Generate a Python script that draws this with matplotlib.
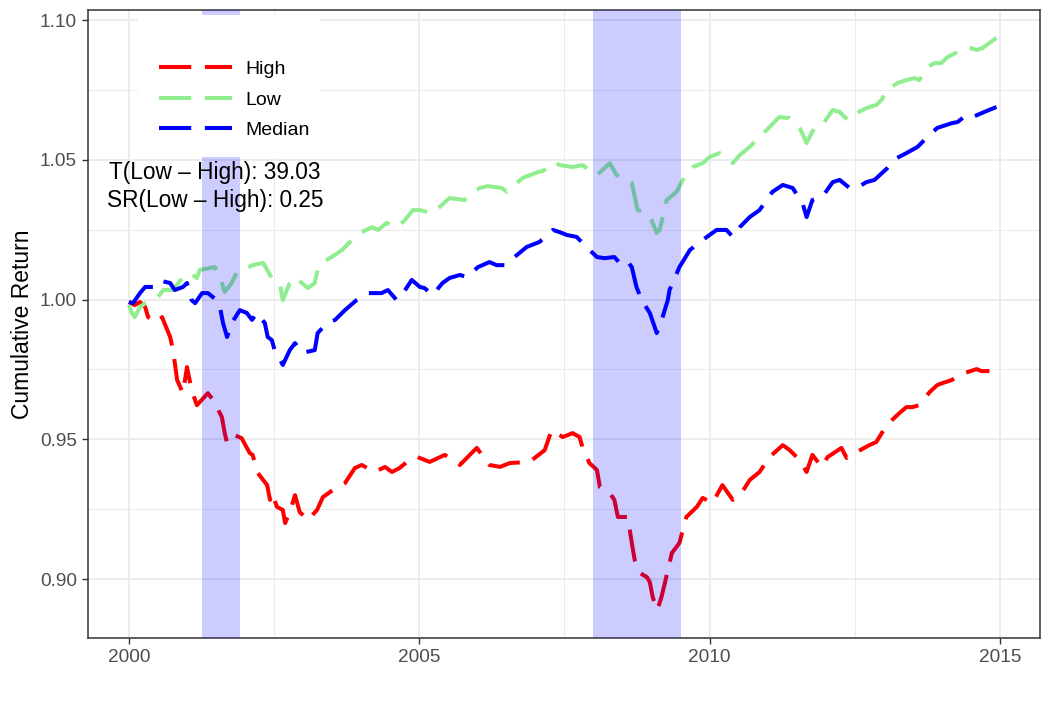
import matplotlib
matplotlib.use("Agg")
import matplotlib.pyplot as plt
from matplotlib.patches import Rectangle
from matplotlib.ticker import MultipleLocator

plt.rcParams['font.family'] = ['Liberation Sans', 'DejaVu Sans']

# values
high_t = [2000.00, 2000.10, 2000.19, 2000.28, 2000.33, 2000.50, 2000.57, 2000.71, 2000.76, 2000.83,
          2000.93, 2001.00, 2001.08, 2001.17, 2001.36, 2001.45, 2001.60, 2001.65, 2001.69, 2001.82,
          2001.94, 2002.08, 2002.13, 2002.22, 2002.38, 2002.43, 2002.46, 2002.55, 2002.65, 2002.69,
          2002.77, 2002.86, 2002.94, 2003.08, 2003.24, 2003.34, 2003.51, 2003.72, 2003.89, 2004.01,
          2004.23, 2004.41, 2004.53, 2004.66, 2004.87, 2004.97, 2005.18, 2005.44, 2005.70, 2005.87,
          2005.99, 2006.21, 2006.39, 2006.56, 2006.90, 2007.16, 2007.28, 2007.47, 2007.64, 2007.76,
          2007.81, 2007.93, 2008.06, 2008.11, 2008.28, 2008.36, 2008.42, 2008.59, 2008.66, 2008.71,
          2008.80, 2008.92, 2008.97, 2009.02, 2009.10, 2009.17, 2009.23, 2009.35, 2009.48, 2009.60,
          2009.78, 2009.88, 2010.05, 2010.22, 2010.40, 2010.55, 2010.69, 2010.86, 2011.03, 2011.26,
          2011.38, 2011.55, 2011.67, 2011.77, 2011.93, 2012.03, 2012.27, 2012.36, 2012.53, 2012.75,
          2012.87, 2013.05, 2013.27, 2013.39, 2013.49, 2013.61, 2013.79, 2013.92, 2014.01, 2014.17,
          2014.39, 2014.60, 2014.68, 2014.82]
high_v = [0.9991, 0.9980, 0.9991, 0.9973, 0.9937, 0.9919, 0.9937, 0.9866, 0.9819, 0.9712,
          0.9665, 0.9758, 0.9676, 0.9622, 0.9665, 0.9640, 0.9580, 0.9522, 0.9487, 0.9515,
          0.9504, 0.9451, 0.9444, 0.9379, 0.9336, 0.9283, 0.9308, 0.9258, 0.9247, 0.9200,
          0.9240, 0.9300, 0.9240, 0.9211, 0.9247, 0.9293, 0.9318, 0.9343, 0.9397, 0.9408,
          0.9383, 0.9401, 0.9383, 0.9397, 0.9433, 0.9436, 0.9419, 0.9444, 0.9408, 0.9444,
          0.9469, 0.9408, 0.9401, 0.9415, 0.9419, 0.9461, 0.9533, 0.9508, 0.9522, 0.9508,
          0.9472, 0.9415, 0.9390, 0.9329, 0.9308, 0.9283, 0.9222, 0.9222, 0.9129, 0.9068,
          0.9021, 0.9007, 0.8989, 0.8935, 0.8889, 0.8935, 0.8986, 0.9093, 0.9129, 0.9222,
          0.9258, 0.9290, 0.9272, 0.9336, 0.9283, 0.9308, 0.9354, 0.9383, 0.9436, 0.9479,
          0.9461, 0.9426, 0.9383, 0.9444, 0.9401, 0.9436, 0.9469, 0.9433, 0.9454, 0.9479,
          0.9490, 0.9551, 0.9594, 0.9615, 0.9615, 0.9622, 0.9669, 0.9694, 0.9701, 0.9712,
          0.9737, 0.9751, 0.9744, 0.9744]

low_t = [2000.00, 2000.05, 2000.10, 2000.19, 2000.28, 2000.50, 2000.59, 2000.76, 2000.93, 2001.05,
         2001.17, 2001.22, 2001.48, 2001.57, 2001.65, 2001.77, 2001.86, 2002.03, 2002.13, 2002.31,
         2002.43, 2002.51, 2002.60, 2002.65, 2002.77, 2002.86, 2003.08, 2003.20, 2003.25, 2003.32,
         2003.49, 2003.67, 2003.84, 2004.01, 2004.18, 2004.29, 2004.44, 2004.63, 2004.75, 2004.89,
         2005.01, 2005.22, 2005.35, 2005.52, 2005.78, 2005.87, 2006.04, 2006.18, 2006.42, 2006.51,
         2006.78, 2007.04, 2007.13, 2007.33, 2007.42, 2007.64, 2007.81, 2007.99, 2008.06, 2008.28,
         2008.40, 2008.49, 2008.66, 2008.76, 2008.92, 2009.00, 2009.09, 2009.14, 2009.26, 2009.43,
         2009.54, 2009.71, 2009.88, 2010.00, 2010.17, 2010.29, 2010.40, 2010.52, 2010.69, 2010.86,
         2010.98, 2011.20, 2011.38, 2011.55, 2011.67, 2011.81, 2011.95, 2012.12, 2012.24, 2012.38,
         2012.46, 2012.70, 2012.87, 2012.96, 2013.05, 2013.24, 2013.39, 2013.53, 2013.61, 2013.75,
         2013.87, 2013.99, 2014.10, 2014.34, 2014.44, 2014.60, 2014.70, 2014.94]
low_v = [0.9980, 0.9952, 0.9937, 0.9973, 0.9987, 1.0009, 1.0034, 1.0034, 1.0080, 1.0095,
         1.0077, 1.0106, 1.0116, 1.0080, 1.0027, 1.0059, 1.0098, 1.0113, 1.0123, 1.0131,
         1.0088, 1.0059, 1.0052, 0.9998, 1.0059, 1.0080, 1.0041, 1.0059, 1.0106, 1.0131,
         1.0152, 1.0177, 1.0213, 1.0241, 1.0259, 1.0249, 1.0274, 1.0259, 1.0284, 1.0320,
         1.0320, 1.0309, 1.0331, 1.0363, 1.0356, 1.0374, 1.0399, 1.0406, 1.0399, 1.0385,
         1.0435, 1.0456, 1.0460, 1.0492, 1.0481, 1.0474, 1.0481, 1.0453, 1.0445, 1.0488,
         1.0445, 1.0438, 1.0417, 1.0320, 1.0309, 1.0284, 1.0238, 1.0249, 1.0356, 1.0385,
         1.0428, 1.0474, 1.0488, 1.0510, 1.0524, 1.0510, 1.0488, 1.0517, 1.0546, 1.0581,
         1.0606, 1.0653, 1.0649, 1.0614, 1.0560, 1.0617, 1.0628, 1.0678, 1.0671, 1.0642,
         1.0660, 1.0685, 1.0696, 1.0714, 1.0750, 1.0775, 1.0785, 1.0792, 1.0785, 1.0832,
         1.0846, 1.0846, 1.0868, 1.0893, 1.0903, 1.0893, 1.0900, 1.0936]

med_t = [2000.00, 2000.07, 2000.19, 2000.28, 2000.50, 2000.57, 2000.71, 2000.79, 2000.93, 2001.00,
         2001.08, 2001.14, 2001.26, 2001.36, 2001.51, 2001.57, 2001.62, 2001.69, 2001.77, 2001.91,
         2002.03, 2002.12, 2002.20, 2002.34, 2002.39, 2002.46, 2002.51, 2002.65, 2002.77, 2002.86,
         2002.98, 2003.20, 2003.25, 2003.41, 2003.55, 2003.72, 2003.92, 2004.11, 2004.35, 2004.46,
         2004.61, 2004.70, 2004.87, 2005.01, 2005.09, 2005.23, 2005.40, 2005.52, 2005.70, 2005.82,
         2006.01, 2006.21, 2006.33, 2006.47, 2006.68, 2006.85, 2007.07, 2007.30, 2007.42, 2007.54,
         2007.71, 2007.88, 2008.06, 2008.19, 2008.36, 2008.45, 2008.57, 2008.66, 2008.74, 2008.83,
         2008.97, 2009.09, 2009.19, 2009.28, 2009.31, 2009.48, 2009.66, 2009.88, 2010.12, 2010.29,
         2010.40, 2010.52, 2010.69, 2010.86, 2011.08, 2011.26, 2011.43, 2011.60, 2011.67, 2011.77,
         2011.94, 2012.12, 2012.24, 2012.41, 2012.53, 2012.70, 2012.84, 2013.06, 2013.22, 2013.39,
         2013.58, 2013.75, 2013.92, 2014.17, 2014.27, 2014.42, 2014.53, 2014.73, 2014.94]
med_v = [0.9991, 0.9987, 1.0023, 1.0045, 1.0045, 1.0066, 1.0059, 1.0034, 1.0045, 1.0059,
         0.9998, 0.9987, 1.0023, 1.0023, 0.9998, 0.9970, 0.9916, 0.9866, 0.9916, 0.9962,
         0.9952, 0.9927, 0.9952, 0.9916, 0.9866, 0.9855, 0.9819, 0.9766, 0.9819, 0.9844,
         0.9809, 0.9819, 0.9880, 0.9916, 0.9927, 0.9962, 0.9998, 1.0023, 1.0023, 1.0034,
         0.9998, 1.0016, 1.0070, 1.0045, 1.0041, 1.0016, 1.0059, 1.0077, 1.0088, 1.0080,
         1.0116, 1.0134, 1.0123, 1.0123, 1.0159, 1.0188, 1.0206, 1.0249, 1.0241, 1.0231,
         1.0224, 1.0188, 1.0152, 1.0148, 1.0152, 1.0131, 1.0141, 1.0116, 1.0045, 0.9998,
         0.9952, 0.9880, 0.9937, 0.9998, 1.0034, 1.0116, 1.0177, 1.0213, 1.0249, 1.0249,
         1.0224, 1.0259, 1.0295, 1.0320, 1.0385, 1.0410, 1.0399, 1.0345, 1.0295, 1.0356,
         1.0367, 1.0420, 1.0428, 1.0399, 1.0399, 1.0420, 1.0428, 1.0470, 1.0506, 1.0524,
         1.0546, 1.0581, 1.0614, 1.0631, 1.0635, 1.0660, 1.0653, 1.0671, 1.0689]

recessions = [(2001.25, 2001.917), (2008.0, 2009.5)]
t_stat = 39.03
sharpe = 0.25

fig = plt.figure(figsize=(10.5, 7.03), dpi=100)
ax = fig.add_axes([0.0838, 0.0925, 0.9067, 0.8933])

dash = (8, 3.4)
lw = 2.9
ax.plot(high_t, high_v, color='red', lw=lw, dashes=dash, label='High', zorder=3)
ax.plot(low_t, low_v, color='lightgreen', lw=lw, dashes=dash, label='Low', zorder=3)
ax.plot(med_t, med_v, color='blue', lw=lw, dashes=dash, label='Median', zorder=3)

for start, end in recessions:
    ax.axvspan(start, end, color='blue', alpha=0.2, lw=0, zorder=4)

# white legend background that hides grid and shading
ax.add_patch(Rectangle((0.0525, 0.766), 0.191, 0.226, transform=ax.transAxes,
                       facecolor='white', edgecolor='none', zorder=5))
leg = ax.legend(loc='center left', bbox_to_anchor=(0.0746, 0.857), frameon=False,
                fontsize=14, handlelength=3.75, handletextpad=0.67, labelspacing=0.66,
                borderpad=0, borderaxespad=0)
leg.set_zorder(6)

ax.text(2001.48, 1.0455, f"T(Low \u2013 High): {t_stat:.2f}", ha='center', va='center',
        fontsize=16.3, zorder=7)
ax.text(2001.48, 1.0355, f"SR(Low \u2013 High): {sharpe:.2f}", ha='center', va='center',
        fontsize=16.3, zorder=7)

ax.xaxis.set_major_locator(MultipleLocator(5))
ax.xaxis.set_minor_locator(MultipleLocator(2.5))
ax.yaxis.set_major_locator(MultipleLocator(0.05))
ax.yaxis.set_minor_locator(MultipleLocator(0.025))
ax.xaxis.set_major_formatter(lambda v, pos: f"{int(round(v))}")
ax.yaxis.set_major_formatter(lambda v, pos: f"{v:.2f}")
ax.set_xlim(1999.295, 2015.69)
ax.set_ylim(0.8789, 1.1036)

ax.grid(which='major', color='#EBEBEB', lw=1.3, zorder=0)
ax.grid(which='minor', color='#EBEBEB', lw=0.7, zorder=0)
ax.set_axisbelow(True)
ax.tick_params(which='major', length=4, width=1, color='#333333', labelcolor='#4D4D4D',
               labelsize=13.7, pad=4)
ax.tick_params(which='minor', length=0)
for s in ax.spines.values():
    s.set_color('#333333')
    s.set_linewidth(1.1)

ax.set_ylabel('Cumulative Return', fontsize=16.5, labelpad=4)

fig.savefig('out.png', dpi=100)
